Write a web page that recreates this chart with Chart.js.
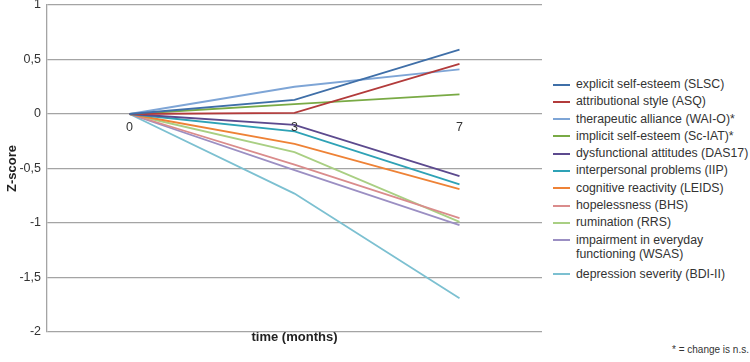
<!DOCTYPE html>
<html>
<head>
<meta charset="utf-8">
<script src="https://cdn.jsdelivr.net/npm/chart.js@4.4.1/dist/chart.umd.min.js"></script>
<style>
  body { margin: 0; background: #fff; font-family: "Liberation Sans", Arial, sans-serif; }
  #wrap { position: relative; width: 750px; height: 362px; overflow: hidden; }
  #box { position: absolute; left: 0; top: 0; width: 545px; height: 362px; }
  #legend { position: absolute; left: 553px; top: 77px; font-size: 12.3px; color: #333; }
  .item { display: flex; align-items: flex-start; line-height: 14.5px; margin-bottom: 2.8px; white-space: pre; }
  .item.two { margin-bottom: 5px; }
  .item .sw { width: 17px; height: 2px; margin: 6.5px 6px 0 0; flex: none; }
  #note { position: absolute; right: 1px; top: 344px; font-size: 10px; color: #333; }
</style>
</head>
<body>
<div id="wrap">
  <div id="box"><canvas id="chart"></canvas></div>
  <div id="legend"></div>
  <div id="note">* = change is n.s.</div>
</div>
<script>
// time points (months)
const months = ['0', '3', '7'];

const seriesNames = [
  'explicit self-esteem (SLSC)',
  'attributional style (ASQ)',
  'therapeutic alliance (WAI-O)*',
  'implicit self-esteem (Sc-IAT)*',
  'dysfunctional attitudes (DAS17)',
  'interpersonal problems (IIP)',
  'cognitive reactivity (LEIDS)',
  'hopelessness (BHS)',
  'rumination (RRS)',
  'impairment in everyday\nfunctioning (WSAS)',
  'depression severity (BDI-II)'
];

// z-scores at 0, 3, 7 months
const slsc  = [0, 0.13, 0.59];
const asq   = [0, 0.01, 0.46];
const waio  = [0, 0.25, 0.41];
const sciat = [0, 0.09, 0.18];
const das17 = [0, -0.10, -0.57];
const iip   = [0, -0.16, -0.645];
const leids = [0, -0.275, -0.69];
const bhs   = [0, -0.465, -0.955];
const rrs   = [0, -0.35, -0.99];
const wsas  = [0, -0.515, -1.02];
const bdi   = [0, -0.73, -1.69];

const seriesValues = [slsc, asq, waio, sciat, das17, iip, leids, bhs, rrs, wsas, bdi];

const colors = [
  '#3f6fa8', '#b23b3b', '#7ea5d6', '#79aa45', '#5c4a8e', '#2ea2b6',
  '#ee8236', '#da8c8c', '#a9cf83', '#9b8fc3', '#7cc0d1'
];

const FONT = '"Liberation Sans", Arial, sans-serif';

// y ticks use comma as decimal separator
const fmt = v => String(v).replace('.', ',');

// x tick labels sit just under the zero line
const zeroLabels = {
  id: 'zeroLabels',
  afterDatasetsDraw(chart) {
    const x = chart.scales.x, y = chart.scales.y;
    const ctx = chart.ctx;
    ctx.save();
    ctx.font = '12.5px ' + FONT;
    ctx.fillStyle = '#333';
    ctx.textAlign = 'center';
    ctx.textBaseline = 'middle';
    x.getLabels().forEach((lab, i) => {
      ctx.fillText(lab, x.getPixelForValue(i), y.getPixelForValue(0) + 14);
    });
    ctx.restore();
  }
};

const chart = new Chart(document.getElementById('chart'), {
  type: 'line',
  data: {
    labels: months,
    datasets: seriesValues.map((vals, i) => ({
      label: seriesNames[i],
      data: vals,
      borderColor: colors[i],
      backgroundColor: colors[i],
      borderWidth: 1.8,
      pointRadius: 0,
      tension: 0
    }))
  },
  options: {
    responsive: true,
    maintainAspectRatio: false,
    animation: false,
    layout: { autoPadding: false, padding: { top: 5, right: 3, left: 0, bottom: 0 } },
    plugins: { legend: { display: false }, tooltip: { enabled: false } },
    scales: {
      x: {
        offset: true,
        grid: { display: false },
        border: { display: false },
        ticks: { display: false },
        title: {
          display: true,
          text: 'time (months)',
          color: '#222',
          font: { size: 13, weight: 'bold', family: FONT },
          padding: { top: 0, bottom: 17 }
        },
        afterFit: s => { s.height = 30; }
      },
      y: {
        min: -2,
        max: 1,
        ticks: {
          stepSize: 0.5,
          padding: 6,
          color: '#333',
          font: { size: 12.5, family: FONT },
          callback: v => fmt(v)
        },
        grid: { color: '#a4a4a4', lineWidth: 1.3, drawTicks: false },
        border: { display: true, color: '#a4a4a4', width: 1.3 },
        title: {
          display: true,
          text: 'Z-score',
          color: '#222',
          font: { size: 13, weight: 'bold', family: FONT },
          padding: { top: 5, bottom: 0 }
        },
        afterFit: s => {
          s.width = 47;
          s.paddingTop = 0;
          s.paddingBottom = 0;
        }
      }
    }
  },
  plugins: [zeroLabels]
});

// legend built from the chart's datasets
const legend = document.getElementById('legend');
chart.data.datasets.forEach(ds => {
  const row = document.createElement('div');
  row.className = ds.label.includes('\n') ? 'item two' : 'item';
  row.innerHTML = `<span class="sw" style="background:${ds.borderColor}"></span><span>${ds.label}</span>`;
  legend.appendChild(row);
});
</script>
</body>
</html>
